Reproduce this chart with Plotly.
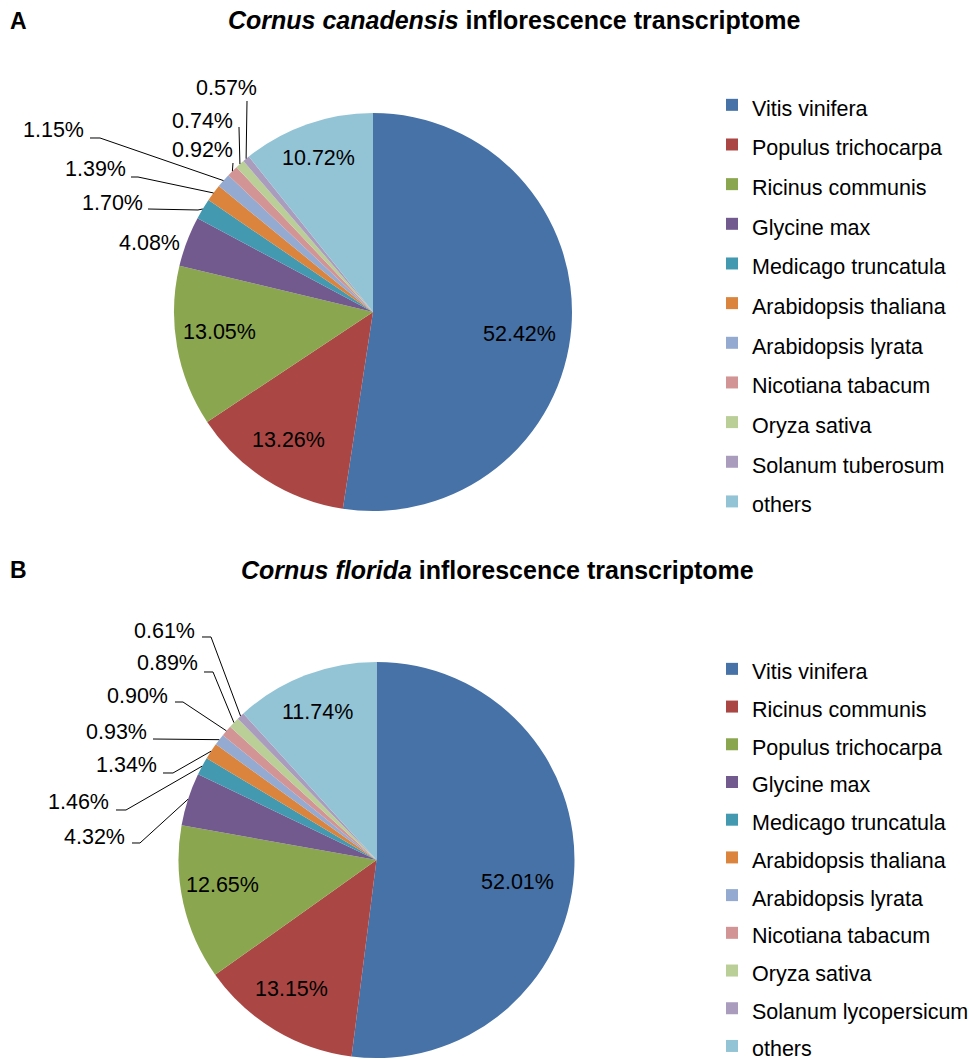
import math
import plotly.graph_objects as go

W, H = 972, 1059

# ---------------- data ----------------
labels_a = ["Vitis vinifera", "Populus trichocarpa", "Ricinus communis", "Glycine max",
            "Medicago truncatula", "Arabidopsis thaliana", "Arabidopsis lyrata",
            "Nicotiana tabacum", "Oryza sativa", "Solanum tuberosum", "others"]
values_a = [52.42, 13.26, 13.05, 4.08, 1.70, 1.39, 1.15, 0.92, 0.74, 0.57, 10.72]

labels_b = ["Vitis vinifera", "Ricinus communis", "Populus trichocarpa", "Glycine max",
            "Medicago truncatula", "Arabidopsis thaliana", "Arabidopsis lyrata",
            "Nicotiana tabacum", "Oryza sativa", "Solanum lycopersicum", "others"]
values_b = [52.01, 13.15, 12.65, 4.32, 1.46, 1.34, 0.93, 0.90, 0.89, 0.61, 11.74]

title_a = "<b><i>Cornus canadensis</i> inflorescence transcriptome</b>"
title_b = "<b><i>Cornus florida</i> inflorescence transcriptome</b>"

# ---------------- style / layout ----------------
colors = ["#4672A7", "#AA4744", "#8AA64F", "#725A8F", "#4299B0", "#DB843E",
          "#94AAD0", "#D29494", "#BACE98", "#A99CBD", "#93C4D6"]
FONT = "Arial, Liberation Sans, sans-serif"
TXT = 21.5

# pie geometry in pixels: (cx, cy, r)
geo_a = (373.0, 312.0, 199.0)
geo_b = (376.5, 860.0, 198.0)

# label text centres (px) and leader-line start/elbow points (px)
pos_a = [(519.5, 334), (288, 440), (219, 332), (149, 243), (112, 203), (95, 169),
         (53, 130), (202, 150), (202, 121), (226, 88), (318, 158)]
lead_a = [None, None, None, None, [(148, 209), (198, 210)], [(131, 177), (138, 177)],
          [(90, 138), (100, 138)], [(233, 163)], [(239, 127)], [(247, 101)], None]

pos_b = [(517, 882), (291, 989), (222, 885), (94, 837), (78, 802), (126, 765),
         (116, 732), (137, 696), (167, 663), (164, 631), (317, 712)]
lead_b = [None, None, None, [(132, 843), (140, 843)], [(116, 810), (126, 810)],
          [(163, 773), (173, 773)], [(153, 739)], [(175, 702), (183, 702)],
          [(204, 672), (213, 672)], [(202, 637), (211, 637)], None]


def px(x):
    return x / W


def py(y):
    return 1 - y / H


def domain(geo):
    cx, cy, r = geo
    return dict(x=[px(cx - r), px(cx + r)], y=[py(cy + r), py(cy - r)])


fig = go.Figure()


def add_pie(labels, values, geo, legend_id, group):
    fig.add_trace(go.Pie(
        labels=[f"<span style='font-size:{TXT}px'>{l}</span>" for l in labels],
        values=values,
        sort=False,
        direction="clockwise",
        rotation=0,
        textinfo="none",
        marker=dict(colors=colors, line=dict(width=0)),
        domain=domain(geo),
        legend=legend_id,
        legendgroup=group,
        hoverinfo="label+percent",
    ))


add_pie(labels_a, values_a, geo_a, "legend", "A")
add_pie(labels_b, values_b, geo_b, "legend2", "B")

annotations = []
shapes = []


def add_labels(values, geo, pos, lead):
    cx, cy, r = geo
    total = sum(values)
    cum = 0.0
    for v, p, ld in zip(values, pos, lead):
        mid = (cum + v / 2) / total * 2 * math.pi
        cum += v
        annotations.append(dict(
            x=px(p[0]), y=py(p[1]), xref="paper", yref="paper",
            text=f"{v:.2f}%", showarrow=False, xanchor="center", yanchor="middle",
            font=dict(family=FONT, size=TXT, color="black")))
        if ld:
            ex = cx + r * math.sin(mid)
            ey = cy - r * math.cos(mid)
            pts = list(ld) + [(ex, ey)]
            path = "M " + " L ".join(f"{px(a):.5f},{py(b):.5f}" for a, b in pts)
            shapes.append(dict(type="path", path=path, xref="paper", yref="paper",
                               line=dict(color="black", width=1)))


add_labels(values_a, geo_a, pos_a, lead_a)
add_labels(values_b, geo_b, pos_b, lead_b)

# titles and panel letters
for txt, x, y in [(title_a, 514, 20), (title_b, 497, 570)]:
    annotations.append(dict(x=px(x), y=py(y), xref="paper", yref="paper", text=txt,
                            showarrow=False, xanchor="center", yanchor="middle",
                            font=dict(family=FONT, size=25, color="black")))
for txt, x, y in [("<b>A</b>", 18, 21), ("<b>B</b>", 18, 570)]:
    annotations.append(dict(x=px(x), y=py(y), xref="paper", yref="paper", text=txt,
                            showarrow=False, xanchor="center", yanchor="middle",
                            font=dict(family=FONT, size=23, color="black")))

fig.update_layout(
    width=W, height=H,
    margin=dict(l=0, r=0, t=0, b=0, autoexpand=False),
    paper_bgcolor="white", plot_bgcolor="white",
    font=dict(family=FONT, color="black"),
    annotations=annotations,
    shapes=shapes,
    legend=dict(x=px(712), y=py(80), xanchor="left", yanchor="top",
                font=dict(family=FONT, size=28.2, color="black"),
                bgcolor="rgba(0,0,0,0)", itemclick=False),
    legend2=dict(x=px(712), y=py(645), xanchor="left", yanchor="top",
                 font=dict(family=FONT, size=26.7, color="black"),
                 bgcolor="rgba(0,0,0,0)", itemclick=False),
    showlegend=True,
)

fig.write_html("out.html",
               config={"displayModeBar": False},
               post_script="document.body.style.margin='0';document.body.style.padding='0';")
